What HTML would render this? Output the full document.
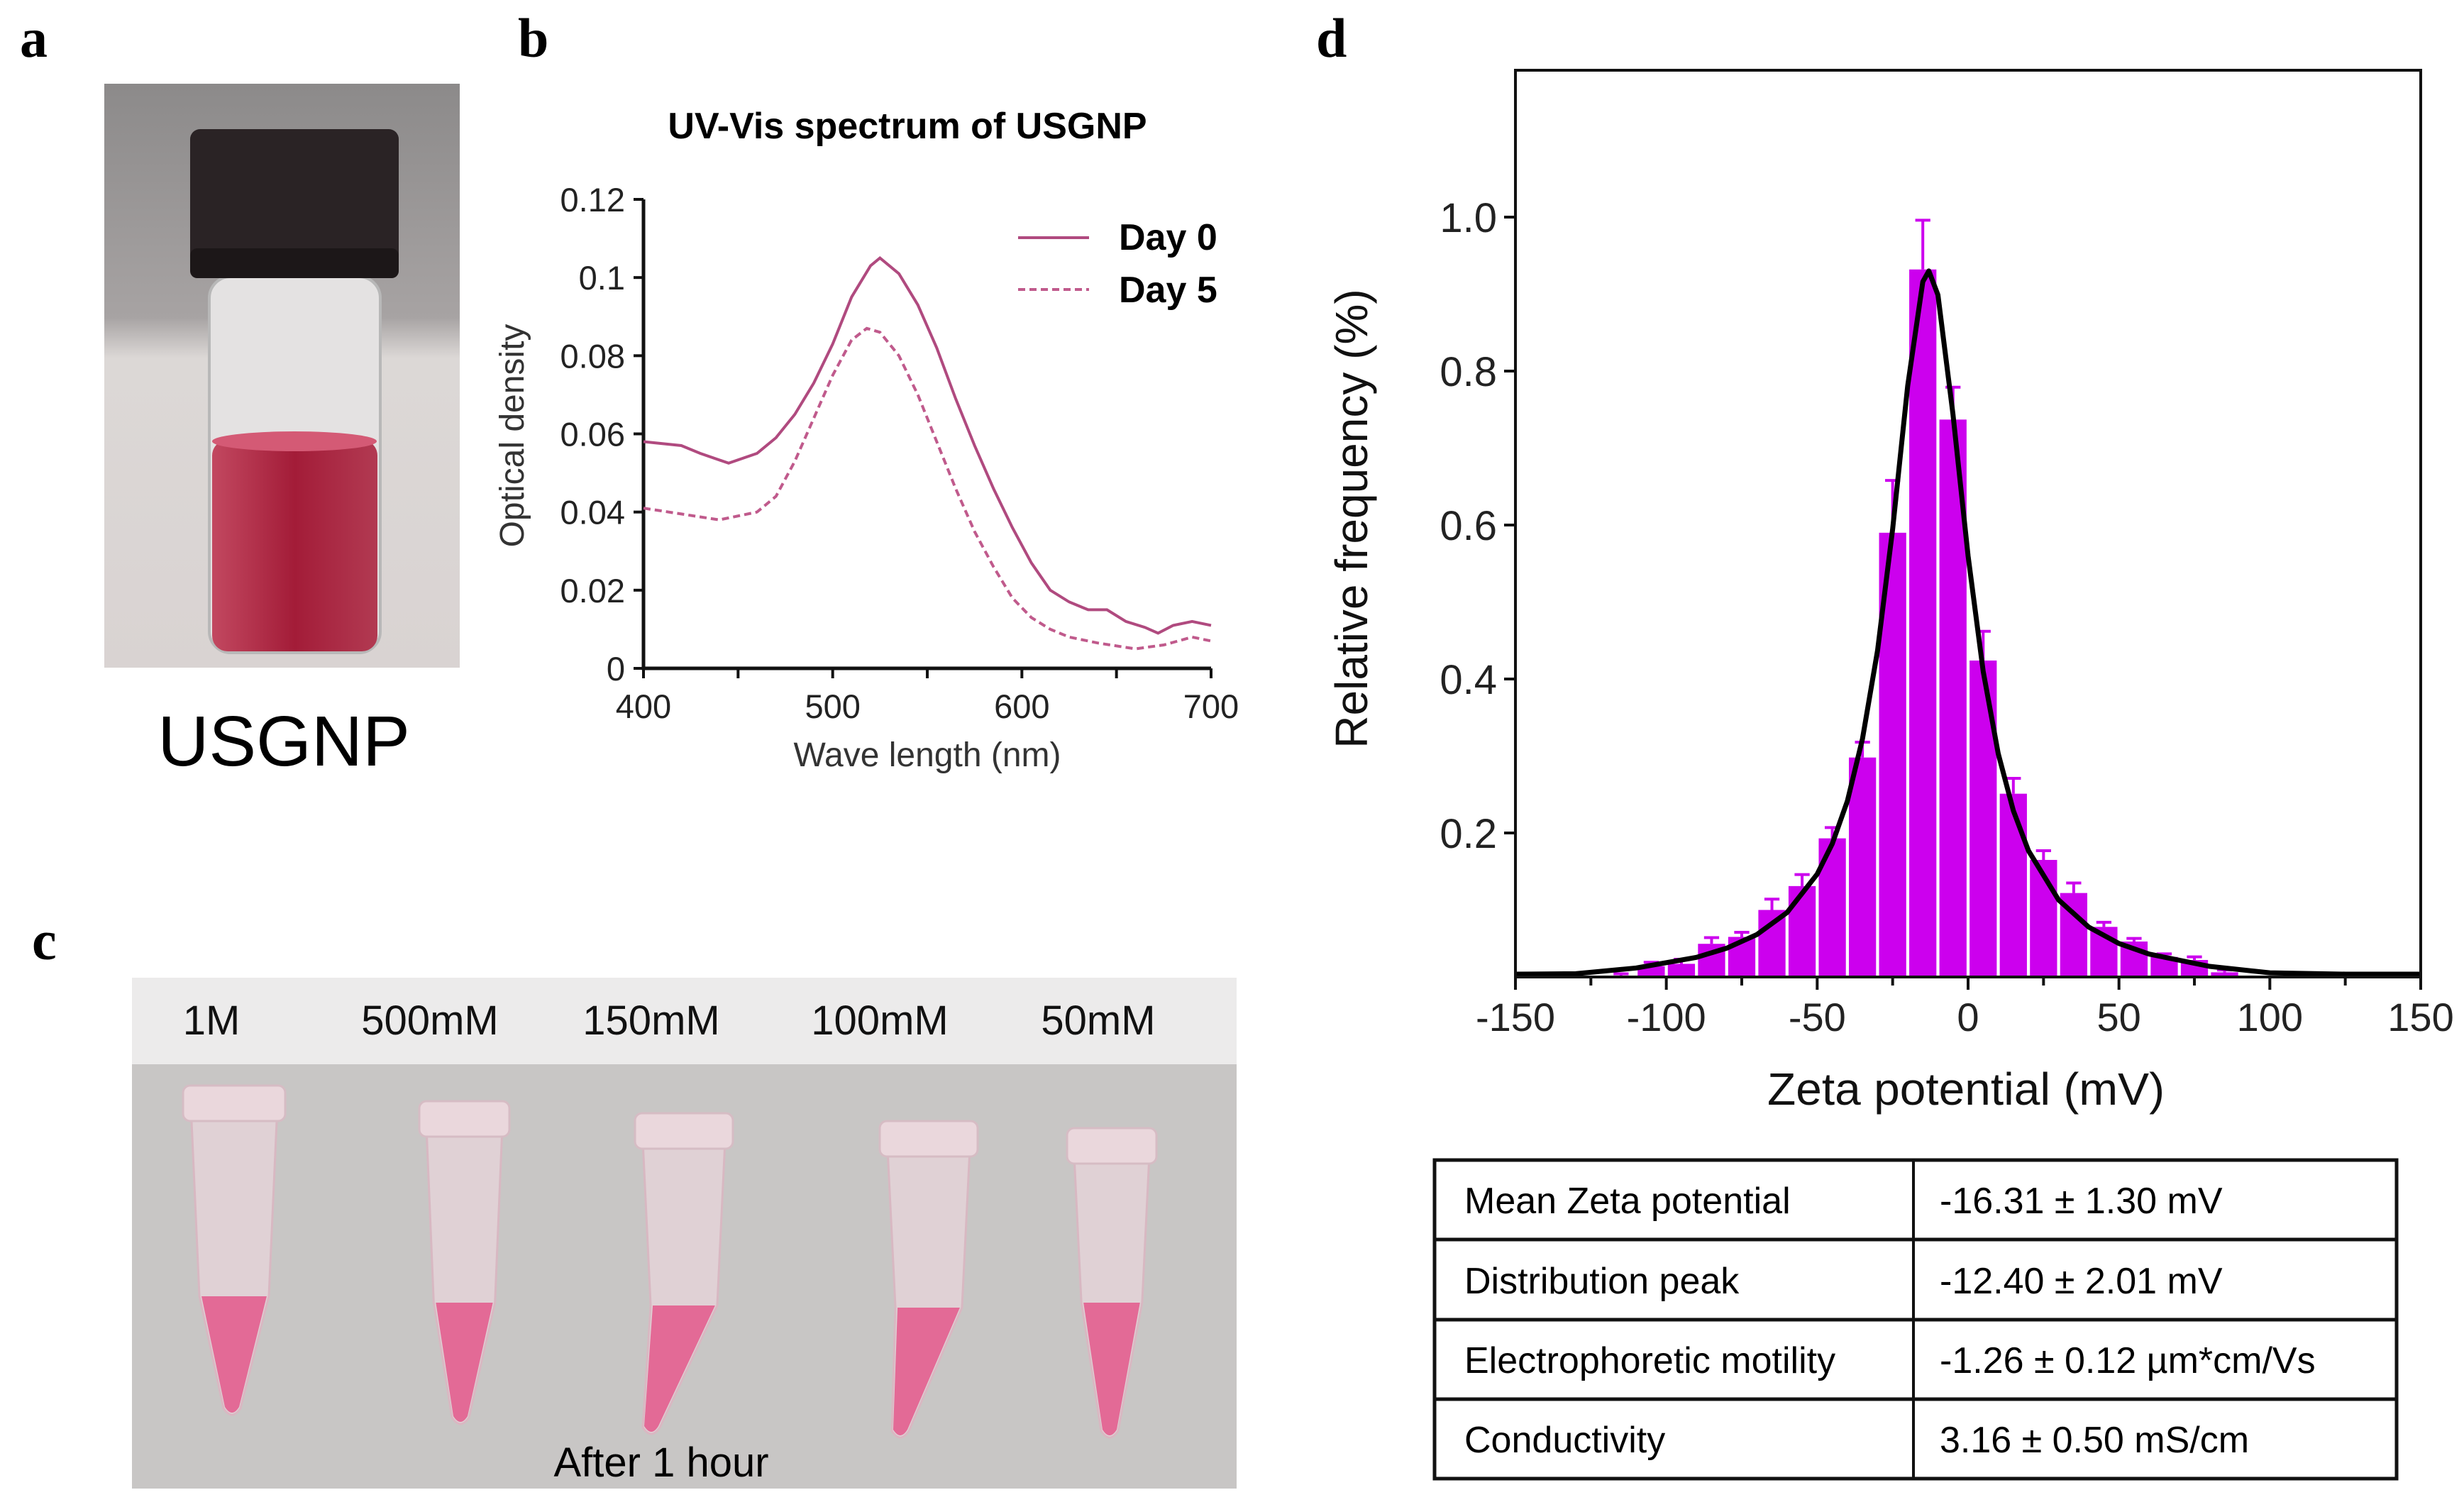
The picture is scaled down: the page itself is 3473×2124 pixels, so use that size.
<!DOCTYPE html>
<html><head><meta charset="utf-8"><style>
html,body{margin:0;padding:0;background:#fff}
body{width:3473px;height:2124px;overflow:hidden;position:relative;font-family:"Liberation Sans",sans-serif}
svg{position:absolute;left:0;top:0}
</style></head><body>
<svg id="fig" width="3473" height="2124" viewBox="0 0 3473 2124">
<defs>
<linearGradient id="vialbg" x1="0" y1="0" x2="0" y2="1">
<stop offset="0" stop-color="#8c8a8a"/><stop offset="0.4" stop-color="#a7a3a3"/><stop offset="0.47" stop-color="#dcd8d6"/><stop offset="1" stop-color="#d9d3d2"/></linearGradient>
<linearGradient id="liq" x1="0" y1="0" x2="1" y2="0">
<stop offset="0" stop-color="#c24860"/><stop offset="0.5" stop-color="#a31c38"/><stop offset="1" stop-color="#b23a52"/></linearGradient>
</defs>
<!-- panel a -->
<text x="28" y="80" font-family="Liberation Serif" font-weight="bold" font-size="78">a</text>
<g>
<rect x="147" y="118" width="501" height="823" fill="url(#vialbg)"/>
<rect x="295" y="390" width="241" height="530" rx="30" fill="#e4e2e2" stroke="#b8b8b8" stroke-width="4"/>
<rect x="299" y="620" width="233" height="298" rx="22" fill="url(#liq)"/>
<ellipse cx="415" cy="622" rx="116" ry="14" fill="#d45a75"/>
<rect x="268" y="182" width="294" height="210" rx="14" fill="#2a2325"/>
<rect x="268" y="350" width="294" height="42" rx="10" fill="#1c1718"/>
</g>
<text x="400" y="1079" text-anchor="middle" font-size="100">USGNP</text>

<!-- panel b -->
<text x="730" y="80" font-family="Liberation Serif" font-weight="bold" font-size="78">b</text>
<g id="chartB"></g>

<!-- panel c -->
<text x="45" y="1352" font-family="Liberation Serif" font-weight="bold" font-size="78">c</text>
<g>
<rect x="186" y="1378" width="1557" height="720" fill="#c8c6c5"/>
<rect x="186" y="1378" width="1557" height="122" fill="#ecebeb"/>
<g id="tubes"></g>
</g>
<g font-size="58" text-anchor="middle" fill="#111">
<text x="298" y="1458">1M</text>
<text x="606" y="1458">500mM</text>
<text x="918" y="1458">150mM</text>
<text x="1240" y="1458">100mM</text>
<text x="1548" y="1458">50mM</text>
</g>
<text x="932" y="2081" font-size="58" text-anchor="middle">After 1 hour</text>

<!-- panel d -->
<text x="1855" y="80" font-family="Liberation Serif" font-weight="bold" font-size="78">d</text>
<g id="chartD"></g>

<g font-size="52">
<rect x="2022" y="1635" width="1356" height="449" fill="none" stroke="#111" stroke-width="5"/>
<line x1="2697" y1="1635" x2="2697" y2="2084" stroke="#111" stroke-width="4"/>
<line x1="2022" y1="1747" x2="3378" y2="1747" stroke="#111" stroke-width="5"/>
<line x1="2022" y1="1860" x2="3378" y2="1860" stroke="#111" stroke-width="5"/>
<line x1="2022" y1="1972" x2="3378" y2="1972" stroke="#111" stroke-width="5"/>
<text x="2064" y="1710">Mean Zeta potential</text>
<text x="2734" y="1710">-16.31 ± 1.30 mV</text>
<text x="2064" y="1823">Distribution peak</text>
<text x="2734" y="1823">-12.40 ± 2.01 mV</text>
<text x="2064" y="1935">Electrophoretic motility</text>
<text x="2734" y="1935">-1.26 ± 0.12 µm*cm/Vs</text>
<text x="2064" y="2047">Conductivity</text>
<text x="2734" y="2047">3.16 ± 0.50 mS/cm</text>
</g>
</svg>
<script>
// ---- Panel b data ----
const wl0 = [400,420,430,445,460,470,480,490,500,510,520,525,535,545,555,565,575,585,595,605,615,625,635,645,655,665,672,680,690,700];
const od0 = [0.058,0.057,0.055,0.0525,0.055,0.059,0.065,0.073,0.083,0.095,0.103,0.105,0.101,0.093,0.082,0.069,0.057,0.046,0.036,0.027,0.020,0.017,0.015,0.015,0.012,0.0105,0.009,0.011,0.012,0.011];
const wl5 = [400,420,440,460,470,480,490,500,510,518,525,535,545,555,565,575,585,595,605,615,625,640,660,675,690,700];
const od5 = [0.041,0.0395,0.038,0.040,0.044,0.053,0.064,0.075,0.084,0.087,0.086,0.080,0.070,0.058,0.046,0.035,0.026,0.018,0.013,0.010,0.008,0.0065,0.005,0.006,0.008,0.007];
const bYTicks = [0,0.02,0.04,0.06,0.08,0.1,0.12];
const bYLabels = ["0","0.02","0.04","0.06","0.08","0.1","0.12"];
const bXTicks = [400,500,600,700];
// ---- Panel d data ----
const zetaBins = [-115,-105,-95,-85,-75,-65,-55,-45,-35,-25,-15,-5,5,15,25,35,45,55,65,75,85];
const zetaFreq = [0.013,0.027,0.03,0.056,0.065,0.10,0.131,0.193,0.298,0.59,0.932,0.737,0.424,0.251,0.165,0.122,0.078,0.059,0.039,0.035,0.019];
const zetaErr  = [0.004,0.005,0.006,0.008,0.006,0.014,0.015,0.014,0.02,0.068,0.064,0.042,0.038,0.02,0.012,0.013,0.006,0.004,0.004,0.004,0.003];
const fitX = [-150,-130,-110,-90,-80,-70,-60,-50,-45,-40,-35,-30,-25,-20,-15,-13,-10,-5,0,5,10,15,20,30,40,50,60,80,100,125,150];
const fitY = [0.0125,0.0171,0.0246,0.0384,0.0503,0.068,0.0966,0.1465,0.186,0.2416,0.322,0.437,0.595,0.781,0.916,0.93,0.899,0.744,0.56,0.41,0.303,0.229,0.177,0.113,0.0777,0.0564,0.0427,0.0267,0.0183,0.0123,0.0089];
const dYTicks = [0.2,0.4,0.6,0.8,1.0];
const dYLabels = ["0.2","0.4","0.6","0.8","1.0"];
const dXTicks = [-150,-100,-50,0,50,100,150];

const NS="http://www.w3.org/2000/svg";
function mk(tag, attrs, parent){const e=document.createElementNS(NS,tag);for(const k in attrs)e.setAttribute(k,attrs[k]);parent.appendChild(e);return e;}

// Panel b
(function(){
  const g=document.getElementById('chartB');
  const bx=v=>907+(v-400)/300*800;
  const by=v=>942-v/0.12*661;
  let t=mk('text',{x:1279,y:195,'text-anchor':'middle','font-weight':'bold','font-size':52},g);t.textContent='UV-Vis spectrum of USGNP';
  
  
  let ax=mk('path',{d:`M${bx(400)} ${by(0.12)} L${bx(400)} ${by(0)} L${bx(700)} ${by(0)}`,fill:'none',stroke:'#111','stroke-width':5},g);
  
  
  bYTicks.forEach((v,i)=>{
    mk('line',{x1:bx(400)-14,x2:bx(400),y1:by(v),y2:by(v),stroke:'#111','stroke-width':4},g);
    const l=mk('text',{x:bx(400)-26,y:by(v)+17,'text-anchor':'end','font-size':47,fill:'#222'},g);l.textContent=bYLabels[i];
    
    
  });
  for(let v=400;v<=700;v+=50){mk('line',{x1:bx(v),x2:bx(v),y1:by(0),y2:by(0)+14,stroke:'#111','stroke-width':4},g);}
  bXTicks.forEach(v=>{
    const l=mk('text',{x:bx(v),y:1012,'text-anchor':'middle','font-size':47,fill:'#222'},g);l.textContent=String(v);
    
    
  });
  let xt=mk('text',{x:1307,y:1080,'text-anchor':'middle','font-size':48,fill:'#333'},g);xt.textContent='Wave length (nm)';
  
  
  let yt=mk('text',{x:0,y:0,'text-anchor':'middle','font-size':48,fill:'#333',transform:'translate(738,614) rotate(-90)'},g);yt.textContent='Optical density';
  
  
  const p0=mk('path',{d:wl0.map((w,i)=>(i?'L':'M')+bx(w).toFixed(1)+' '+by(od0[i]).toFixed(1)).join(' '),fill:'none',stroke:'#b04a7f','stroke-width':4},g);
  
  
  const p5=mk('path',{d:wl5.map((w,i)=>(i?'L':'M')+bx(w).toFixed(1)+' '+by(od5[i]).toFixed(1)).join(' '),fill:'none',stroke:'#c05a8c','stroke-width':4,'stroke-dasharray':'10 6'},g);
  
  
  mk('line',{x1:1435,x2:1535,y1:335,y2:335,stroke:'#b04a7f','stroke-width':4},g);
  mk('line',{x1:1435,x2:1535,y1:408,y2:408,stroke:'#c05a8c','stroke-width':4,'stroke-dasharray':'10 6'},g);
  let l0=mk('text',{x:1577,y:352,'font-size':52,'font-weight':'bold'},g);l0.textContent='Day 0';
  
  
  let l5=mk('text',{x:1577,y:426,'font-size':52,'font-weight':'bold'},g);l5.textContent='Day 5';
  
  
})();

// Tubes photo
(function(){
  const g=document.getElementById('tubes');
  const tubes=[[258,402,327,1530,1993,1827],[591,718,649,1552,2006,1836],[895,1033,918,1569,2020,1840],[1240,1378,1269,1580,2025,1843],[1504,1630,1564,1590,2025,1836]];
  tubes.forEach(t=>{
    const [l,r,tip,top,bot,liq]=t;
    const cx=(l+r)/2, w=r-l;
    const tl=cx-w*0.42, tr=cx+w*0.42;
    const ml=cx-w*0.34, mr=cx+w*0.34;
    mk('path',{d:`M${tl} ${top+40} L${tr} ${top+40} L${mr} ${liq} L${tip+12} ${bot-8} Q${tip} ${bot+10} ${tip-12} ${bot-8} L${ml} ${liq} Z`,fill:'#e6d3d8','fill-opacity':0.8,stroke:'#d8b8c2','stroke-width':3},g);
    mk('rect',{x:l,y:top,width:w,height:50,rx:10,fill:'#ead7dc',stroke:'#d6bcc4','stroke-width':3},g);
    mk('path',{d:`M${ml+3} ${liq} L${mr-3} ${liq} L${tip+10} ${bot-10} Q${tip} ${bot+6} ${tip-10} ${bot-10} Z`,fill:'#e36a96'},g);
  });
})();

// Panel d
(function(){
  const g=document.getElementById('chartD');
  const L=2136,R=3412,T=99,B=1377;
  const dx=v=>L+(v+150)/300*(R-L);
  const dy=v=>1391-v/0.2*217;
  zetaBins.forEach((c,i)=>{
    const x0=dx(c-4.5),x1=dx(c+4.5);
    const b=mk('rect',{x:x0,y:dy(zetaFreq[i]),width:x1-x0,height:B-dy(zetaFreq[i]),fill:'#cc00ee'},g);
    
    
    const et=dy(zetaFreq[i]+zetaErr[i]);
    const e=mk('path',{d:`M${dx(c)} ${dy(zetaFreq[i])} L${dx(c)} ${et} M${dx(c-2.5)} ${et} L${dx(c+2.5)} ${et}`,stroke:'#cc00ee','stroke-width':4,fill:'none'},g);
    
    
  });
  const fit=mk('path',{d:fitX.map((x,i)=>(i?'L':'M')+dx(x).toFixed(1)+' '+Math.min(dy(fitY[i]),B-4).toFixed(1)).join(' '),fill:'none',stroke:'#000','stroke-width':7,'stroke-linejoin':'round'},g);
  
  
  const fr=mk('rect',{x:L,y:T,width:R-L,height:B-T,fill:'none',stroke:'#111','stroke-width':4},g);
  
  
  dYTicks.forEach((v,i)=>{
    mk('line',{x1:L-16,x2:L,y1:dy(v),y2:dy(v),stroke:'#111','stroke-width':4},g);
    const l=mk('text',{x:L-26,y:dy(v)+21,'text-anchor':'end','font-size':58,fill:'#222'},g);l.textContent=dYLabels[i];
    
    
  });
  for(let v=-150;v<=150;v+=25){mk('line',{x1:dx(v),x2:dx(v),y1:B,y2:B+(v%50===0?18:12),stroke:'#111','stroke-width':4},g);}
  dXTicks.forEach(v=>{
    const l=mk('text',{x:dx(v),y:1453,'text-anchor':'middle','font-size':56,fill:'#222'},g);l.textContent=String(v);
    
    
  });
  let xt=mk('text',{x:2771,y:1557,'text-anchor':'middle','font-size':64,fill:'#111',textLength:560,lengthAdjust:'spacingAndGlyphs'},g);xt.textContent='Zeta potential (mV)';
  
  
  let yt=mk('text',{x:0,y:0,'text-anchor':'middle','font-size':64,fill:'#111',transform:'translate(1927,731) rotate(-90)'},g);yt.textContent='Relative frequency (%)';
  
  
})();
</script>
</body></html>
